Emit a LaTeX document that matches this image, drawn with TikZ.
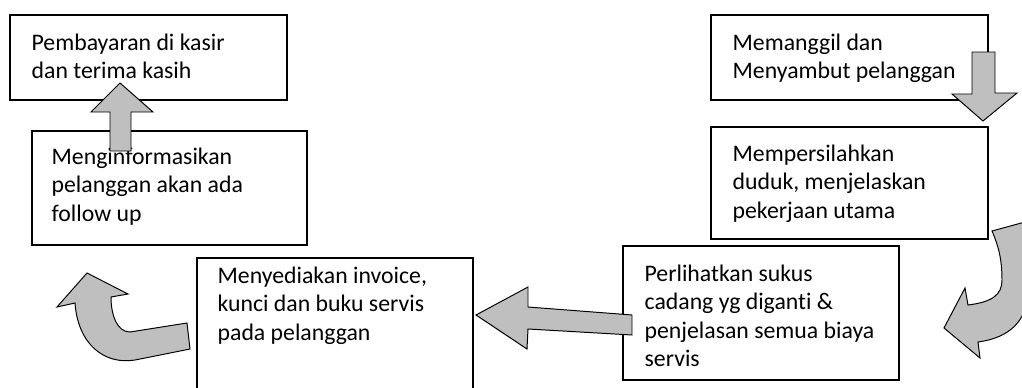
\documentclass[tikz,border=0pt]{standalone}
\usepackage{fontspec}
\setmainfont{Carlito}[Ligatures=NoCommon]
\usetikzlibrary{fit}

\begin{document}
\begin{tikzpicture}[x=0.025cm,y=-0.025cm,
  box/.style={draw=black,line width=0.9pt,inner sep=0pt},
  txt/.style={anchor=north west,inner sep=0pt,align=left,font=\fontsize{16.9}{20.3}\selectfont},
  blk/.style={draw=black,fill=lightgray,line width=0.7pt,line join=miter}]
\useasboundingbox (0,0) rectangle (1022,388);
\clip (0,0) rectangle (1022,388);

% left column
\node (B1) [box,fit={(10,15) (287,100)}]{};
\node (T1) [txt] at ([shift={(22,19)}]B1.north west) {Pembayaran di kasir\\dan terima kasih};
\node (B2) [box,fit={(32,131) (307,245)}]{};
\node (T2) [txt] at ([shift={(20,17)}]B2.north west) {Menginformasikan\\pelanggan akan ada\\follow up};
\node (B3) [box,fit={(197,258) (473,400)}]{};
\node (T3) [txt] at ([shift={(21,9)}]B3.north west) {Menyediakan invoice,\\kunci dan buku servis\\pada pelanggan};

% right column
\node (B4) [box,fit={(711,15) (988,100)}]{};
\node (T4) [txt] at ([shift={(22,19)}]B4.north west) {Memanggil dan\\Menyambut pelanggan};
\node (B5) [box,fit={(711,127) (988,239)}]{};
\node (T5) [txt] at ([shift={(22,18)}]B5.north west) {Mempersilahkan\\duduk, menjelaskan\\pekerjaan utama};
\node (B6) [box,fit={(623,246) (899,380)}]{};
\node (T6) [txt] at ([shift={(22,19)}]B6.north west) {Perlihatkan sukus\\cadang yg diganti \&\\penjelasan semua biaya\\servis};

% block arrows
\draw[blk] (972,52) -- (995,52) -- (995,93) -- (1017,93) -- (983,121) -- (952,94) -- (972,94) -- cycle;
\draw[blk] (992,231) -- (1025,222) -- (1028,290) .. controls (1028,322) and (1008,338) .. (978,342)
  -- (980,358) -- (944,328) -- (965,288) -- (968,305)
  .. controls (992,302) and (1002,295) .. (1002,280) .. controls (1002,258) and (998,245) .. cycle;
\draw[blk] (632,315) -- (632,335) -- (528,329) -- (527,349) -- (476,315) -- (528,287) -- (528,307) -- cycle;
\draw[blk] (190,349) -- (187,323) -- (130,332) .. controls (117,332) and (111,315) .. (111,297)
  -- (128,294) -- (87,273) -- (57,307) -- (75,303)
  .. controls (78,345) and (105,365) .. (135,360) -- cycle;
\draw[blk] (110,151) -- (110,112) -- (91,112) -- (120,83) -- (153,112) -- (131,112) -- (131,151) -- cycle;

\end{tikzpicture}
\end{document}
